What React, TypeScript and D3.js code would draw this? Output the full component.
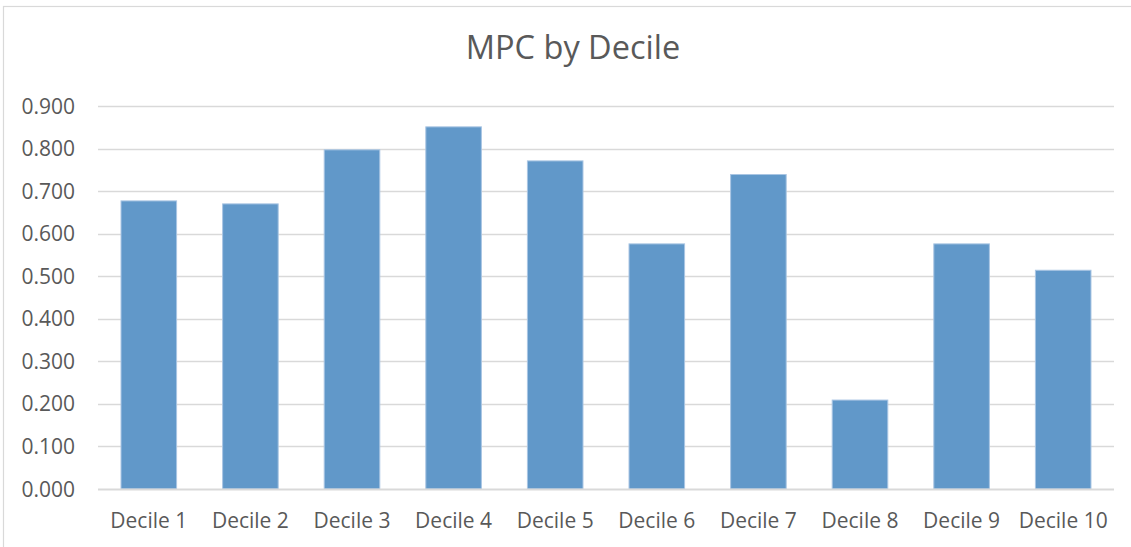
import { useEffect, useRef } from "react";
import * as d3 from "d3";

const categories = [
  "Decile 1",
  "Decile 2",
  "Decile 3",
  "Decile 4",
  "Decile 5",
  "Decile 6",
  "Decile 7",
  "Decile 8",
  "Decile 9",
  "Decile 10",
];
const mpc = [0.677, 0.67, 0.797, 0.851, 0.771, 0.576, 0.739, 0.209, 0.576, 0.514];
const yTicks = [0, 0.1, 0.2, 0.3, 0.4, 0.5, 0.6, 0.7, 0.8, 0.9];

const width = 1131;
const height = 547;

export default function App() {
  const svgRef = useRef<SVGSVGElement>(null);

  useEffect(() => {
    if (!svgRef.current) return;
    const svg = d3.select(svgRef.current);
    svg.selectAll("*").remove();

    const font = "'Open Sans', 'DejaVu Sans', sans-serif";
    const textColor = "#595959";

    const x = d3
      .scaleBand<string>()
      .domain(categories)
      .range([98, 1114])
      .paddingInner(0.453)
      .paddingOuter(0.2265);

    const y = d3.scaleLinear().domain([0, 0.9]).range([489, 106]);

    // chart border
    svg
      .append("rect")
      .attr("x", 3.5)
      .attr("y", 6.5)
      .attr("width", 1150)
      .attr("height", 600)
      .attr("fill", "white")
      .attr("stroke", "#d9d9d9")
      .attr("stroke-width", 1.2);

    // title
    svg
      .append("text")
      .attr("x", 573)
      .attr("y", 59)
      .attr("text-anchor", "middle")
      .attr("font-family", font)
      .attr("font-size", 32.5)
      .attr("fill", textColor)
      .text("MPC by Decile");

    // gridlines
    svg
      .append("g")
      .selectAll("line")
      .data(yTicks.slice(1))
      .join("line")
      .attr("x1", 98)
      .attr("x2", 1114)
      .attr("y1", (d) => Math.round(y(d)) + 0.5)
      .attr("y2", (d) => Math.round(y(d)) + 0.5)
      .attr("stroke", "#d9d9d9")
      .attr("stroke-width", 1.3);

    // y tick labels
    svg
      .append("g")
      .selectAll("text")
      .data(yTicks)
      .join("text")
      .attr("x", 75)
      .attr("y", (d) => y(d))
      .attr("dy", "0.36em")
      .attr("text-anchor", "end")
      .attr("font-family", font)
      .attr("font-size", 21)
      .attr("fill", textColor)
      .text((d) => d3.format(".3f")(d));

    // bars
    svg
      .append("g")
      .selectAll("rect")
      .data(mpc)
      .join("rect")
      .attr("x", (_, i) => x(categories[i]) ?? 0)
      .attr("y", (d) => y(d))
      .attr("width", x.bandwidth())
      .attr("height", (d) => y(0) - y(d))
      .attr("fill", "#6198c9")
      .attr("stroke", "#a9c5e3")
      .attr("stroke-width", 1);

    // baseline axis
    svg
      .append("line")
      .attr("x1", 98)
      .attr("x2", 1114)
      .attr("y1", 489.5)
      .attr("y2", 489.5)
      .attr("stroke", "#d9d9d9")
      .attr("stroke-width", 2);

    // x labels
    svg
      .append("g")
      .selectAll("text")
      .data(categories)
      .join("text")
      .attr("x", (d) => (x(d) ?? 0) + x.bandwidth() / 2)
      .attr("y", 528)
      .attr("text-anchor", "middle")
      .attr("font-family", font)
      .attr("font-size", 21)
      .attr("fill", textColor)
      .text((d) => d);
  }, []);

  return (
    <svg
      ref={svgRef}
      width={width}
      height={height}
      style={{ position: "absolute", left: 0, top: 0, background: "white" }}
    />
  );
}
